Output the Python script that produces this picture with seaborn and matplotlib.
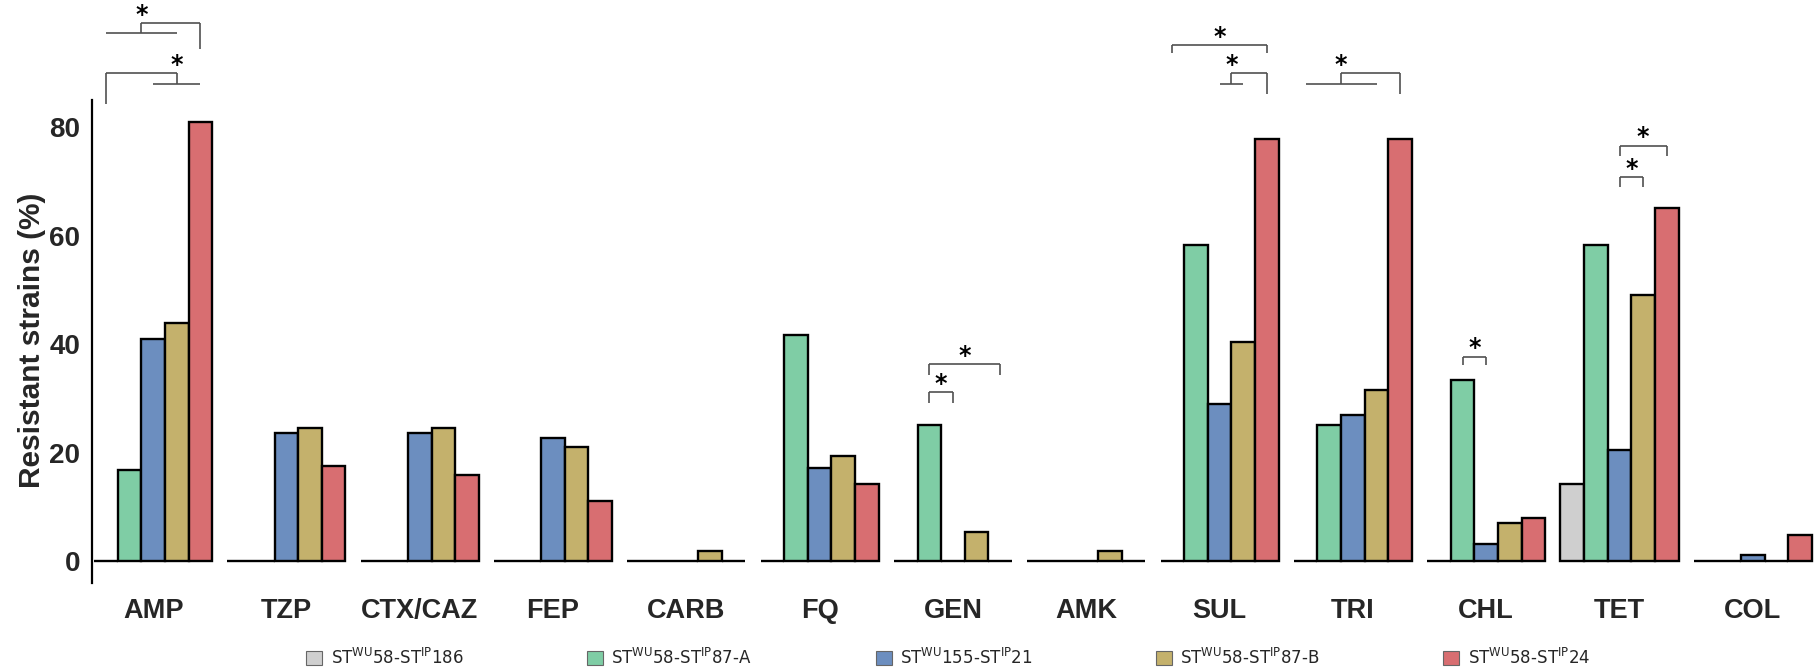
import numpy as np
import pandas as pd
import matplotlib
matplotlib.use("Agg")
import matplotlib.pyplot as plt
from matplotlib.patches import Patch
import seaborn as sns

# Antibiotic classes on the x axis
drugs = ["AMP", "TZP", "CTX/CAZ", "FEP", "CARB", "FQ", "GEN",
         "AMK", "SUL", "TRI", "CHL", "TET", "COL"]

# Lineage labels (legend order = bar order inside each group)
strains = [
    r"ST$^{\mathrm{WU}}$58-ST$^{\mathrm{IP}}$186",
    r"ST$^{\mathrm{WU}}$58-ST$^{\mathrm{IP}}$87-A",
    r"ST$^{\mathrm{WU}}$155-ST$^{\mathrm{IP}}$21",
    r"ST$^{\mathrm{WU}}$58-ST$^{\mathrm{IP}}$87-B",
    r"ST$^{\mathrm{WU}}$58-ST$^{\mathrm{IP}}$24",
]

# Percentage of resistant strains per lineage
st186 = [0, 0, 0, 0, 0, 0, 0, 0, 0, 0, 0, 14.3, 0]
st87a = [16.7, 0, 0, 0, 0, 41.7, 25.0, 0, 58.3, 25.0, 33.3, 58.3, 0]
st155 = [40.9, 23.7, 23.7, 22.6, 0, 17.2, 0, 0, 29.0, 26.9, 3.2, 20.4, 1.1]
st87b = [43.9, 24.6, 24.6, 21.1, 1.8, 19.3, 5.3, 1.8, 40.4, 31.6, 7.0, 49.1, 0]
st24 = [81.0, 17.5, 15.9, 11.1, 0, 14.3, 0, 0, 77.8, 77.8, 7.9, 65.1, 4.8]

colors = ["#cfcfcf", "#7fcda5", "#6c8ebf", "#c4b16c", "#d86e71"]

# Significance brackets: (drug, left side, right side, top level)
# a side is (list of bar slots, level where that side ends)
brackets = [
    ("AMP", ([0, 3], 97.3), ([4], 94.4), 99.2),
    ("AMP", ([0], 84.2), ([2, 4], 87.9), 90.0),
    ("GEN", ([1], 29.1), ([2], 29.1), 31.1),
    ("GEN", ([1], 34.3), ([4], 34.3), 36.3),
    ("SUL", ([0], 93.6), ([4], 93.6), 95.1),
    ("SUL", ([2, 3], 87.9), ([4], 86.1), 90.0),
    ("TRI", ([0, 3], 87.9), ([4], 86.1), 90.0),
    ("CHL", ([1], 36.1), ([2], 36.1), 37.7),
    ("TET", ([2], 69.0), ([3], 69.0), 70.8),
    ("TET", ([2], 74.7), ([4], 74.7), 76.6),
]

series = [st186, st87a, st155, st87b, st24]
df = pd.DataFrame({
    "drug": np.tile(drugs, len(strains)),
    "strain": np.repeat(strains, len(drugs)),
    "pct": np.concatenate(series),
})

sns.set_style("white")
plt.rcParams["font.family"] = ["Liberation Sans", "DejaVu Sans"]

fig = plt.figure(figsize=(18.15, 6.71), dpi=100)
ax = fig.add_axes([0.0507, 0.1311, 0.9493, 0.7198])

group_w = 0.886
sns.barplot(data=df, x="drug", y="pct", hue="strain", order=drugs,
            hue_order=strains, palette=colors, width=group_w, gap=0,
            dodge=True, edgecolor="black", linewidth=1.7, saturation=1,
            errorbar=None, legend=False, ax=ax)

ax.set_xlim(-0.458, 12.466)
ax.set_ylim(-4.05, 85.0)
ax.set_yticks([0, 20, 40, 60, 80])
ax.set_xlabel("")
ax.set_ylabel("Resistant strains (%)", fontsize=21.5, fontweight="bold")
ax.yaxis.set_label_coords(-0.027, 0.502)
for s in ["top", "right", "bottom"]:
    ax.spines[s].set_visible(False)
ax.spines["left"].set_linewidth(1.6)
ax.spines["left"].set_color("black")
ax.tick_params(axis="x", length=0, pad=11, labelsize=19.5)
ax.tick_params(axis="y", length=4.5, width=1.5, pad=4, labelsize=20,
               color="black")
for lab in ax.get_xticklabels() + ax.get_yticklabels():
    lab.set_fontweight("bold")

# Significance brackets
slot_w = group_w / len(strains)
line_kw = dict(color="#505050", lw=1.2, clip_on=False, solid_capstyle="butt")


def side_x(ci, slots):
    xs = [ci + (s - 2) * slot_w for s in slots]
    return xs, (min(xs) + max(xs)) / 2


for drug, left, right, top in brackets:
    ci = drugs.index(drug)
    star_x = None
    joints = []
    for slots, end in (left, right):
        xs, xj = side_x(ci, slots)
        if len(slots) > 1:
            ax.plot([min(xs), max(xs)], [end, end], **line_kw)
            star_x = xj
        ax.plot([xj, xj], [end, top], **line_kw)
        joints.append(xj)
    ax.plot(joints, [top, top], **line_kw)
    if star_x is None:
        star_x = sum(joints) / 2
    ax.text(star_x, top + 1.55, "*", ha="center", va="center",
            fontsize=17, fontweight="bold", family="DejaVu Sans",
            color="black", clip_on=False)

handles = [Patch(facecolor=c, edgecolor="#666666", linewidth=0.8)
           for c in colors]
fig.legend(handles, strains, loc="center", bbox_to_anchor=(0.5225, 0.0201),
           ncol=5, frameon=False, prop={"family": "DejaVu Sans", "size": 12},
           handlelength=0.96, handleheight=0.9, handletextpad=0.5,
           columnspacing=7.4)

fig.savefig("out.png", dpi=100)
